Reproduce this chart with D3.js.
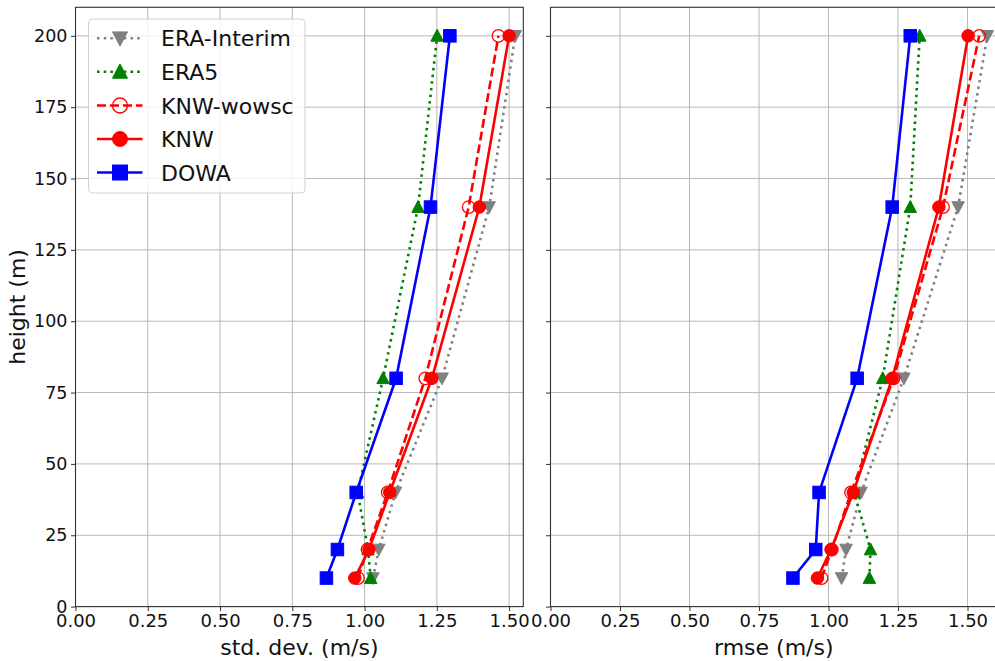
<!DOCTYPE html>
<html>
<head>
<meta charset="utf-8">
<script src="https://cdn.jsdelivr.net/npm/d3@7"></script>
<style>
  html, body { margin: 0; padding: 0; background: #fff; }
  svg { display: block; font-family: "DejaVu Sans", sans-serif; }
</style>
</head>
<body>
<svg id="chart" width="995" height="661"></svg>
<script>
// ---- data ----
const heights = [10, 20, 40, 80, 140, 200];
const seriesNames = ["ERA-Interim", "ERA5", "KNW-wowsc", "KNW", "DOWA"];

const stdEraInterim = [1.029, 1.049, 1.107, 1.268, 1.431, 1.521];
const stdEra5       = [1.021, 1.012, 0.976, 1.064, 1.185, 1.251];
const stdKnwWowsc   = [0.977, 1.010, 1.080, 1.210, 1.360, 1.463];
const stdKnw        = [0.966, 1.015, 1.087, 1.233, 1.397, 1.500];
const stdDowa       = [0.868, 0.906, 0.971, 1.109, 1.228, 1.295];

const rmseEraInterim = [1.047, 1.063, 1.117, 1.271, 1.466, 1.571];
const rmseEra5       = [1.147, 1.151, 1.092, 1.195, 1.294, 1.328];
const rmseKnwWowsc   = [0.975, 1.012, 1.081, 1.234, 1.412, 1.542];
const rmseKnw        = [0.960, 1.009, 1.089, 1.229, 1.397, 1.502];
const rmseDowa       = [0.872, 0.954, 0.966, 1.103, 1.229, 1.294];

const xTicks = [0, 0.25, 0.5, 0.75, 1.0, 1.25, 1.5];
const yTicks = [0, 25, 50, 75, 100, 125, 150, 175, 200];
const xLabels = ["std. dev. (m/s)", "rmse (m/s)"];
const yLabel = "height (m)";

// ---- styles ----
const styles = {
  "ERA-Interim": { color: "#808080", dash: "2.5,4.2", marker: "tri-down", fill: "#808080" },
  "ERA5":        { color: "#008000", dash: "2.5,4.2", marker: "tri-up",   fill: "#008000" },
  "KNW-wowsc":   { color: "#ff0000", dash: "9,4",     marker: "circle",   fill: "none" },
  "KNW":         { color: "#ff0000", dash: null,      marker: "circle",   fill: "#ff0000" },
  "DOWA":        { color: "#0000ff", dash: null,      marker: "square",   fill: "#0000ff" }
};

const panels = [
  { x0: 75.5, x1: 523.3, xmax: 1.549,
    data: [stdEraInterim, stdEra5, stdKnwWowsc, stdKnw, stdDowa], label: xLabels[0], yLabels: true },
  { x0: 550.5, x1: 997, xmax: 1.606,
    data: [rmseEraInterim, rmseEra5, rmseKnwWowsc, rmseKnw, rmseDowa], label: xLabels[1], yLabels: false }
];

const yTop = 7.3, yBot = 606.6;
const y = d3.scaleLinear().domain([0, 210]).range([yBot, yTop]);

const svg = d3.select("#chart");

function drawMarker(g, type, cx, cy, size, st) {
  const s = size;
  if (type === "square") {
    g.append("rect").attr("x", cx - s/2).attr("y", cy - s/2).attr("width", s).attr("height", s)
      .attr("fill", st.fill).attr("stroke", st.color).attr("stroke-width", 1);
  } else if (type === "circle") {
    g.append("circle").attr("cx", cx).attr("cy", cy).attr("r", s/2)
      .attr("fill", st.fill).attr("stroke", st.color).attr("stroke-width", st.fill === "none" ? 1.3 : 1);
  } else if (type === "tri-up") {
    const h = s * 0.95, w = s * 1.0;
    g.append("path").attr("d", `M${cx},${cy - h*0.55} L${cx + w/2},${cy + h*0.45} L${cx - w/2},${cy + h*0.45} Z`)
      .attr("fill", st.fill).attr("stroke", st.color).attr("stroke-width", 1);
  } else if (type === "tri-down") {
    const h = s * 0.95, w = s * 1.0;
    g.append("path").attr("d", `M${cx},${cy + h*0.55} L${cx + w/2},${cy - h*0.45} L${cx - w/2},${cy - h*0.45} Z`)
      .attr("fill", st.fill).attr("stroke", st.color).attr("stroke-width", 1);
  }
}

panels.forEach((p, pi) => {
  const x = d3.scaleLinear().domain([0, p.xmax]).range([p.x0, p.x1]);
  const g = svg.append("g");
  const clipId = "clip" + pi;
  svg.append("clipPath").attr("id", clipId).append("rect")
    .attr("x", p.x0).attr("y", yTop).attr("width", p.x1 - p.x0).attr("height", yBot - yTop);

  // grid
  const grid = g.append("g");
  xTicks.forEach(t => {
    grid.append("line").attr("x1", x(t)).attr("x2", x(t)).attr("y1", yTop).attr("y2", yBot)
      .attr("stroke", "#b0b0b0").attr("stroke-width", 0.9);
  });
  yTicks.forEach(t => {
    grid.append("line").attr("x1", p.x0).attr("x2", p.x1).attr("y1", y(t)).attr("y2", y(t))
      .attr("stroke", "#b0b0b0").attr("stroke-width", 0.9);
  });

  // axes
  const xAxis = d3.axisBottom(x).tickValues(xTicks).tickFormat(d3.format(".2f")).tickSize(4.5).tickPadding(3);
  const xa = g.append("g").attr("transform", `translate(0,${yBot})`).call(xAxis);
  xa.select(".domain").remove();
  xa.selectAll("line").attr("stroke", "#333");
  xa.selectAll("text").attr("font-size", 18).attr("fill", "#111").attr("font-family", "DejaVu Sans");

  const yAxis = d3.axisLeft(y).tickValues(yTicks).tickSize(4.5).tickPadding(3.5)
    .tickFormat(p.yLabels ? d3.format("d") : () => "");
  const ya = g.append("g").attr("transform", `translate(${p.x0},0)`).call(yAxis);
  ya.select(".domain").remove();
  ya.selectAll("line").attr("stroke", "#333");
  ya.selectAll("text").attr("font-size", 17.5).attr("fill", "#111").attr("font-family", "DejaVu Sans");

  // series
  const plot = g.append("g").attr("clip-path", `url(#${clipId})`);
  seriesNames.forEach((name, si) => {
    const st = styles[name];
    const vals = p.data[si];
    const pts = heights.map((h, i) => [x(vals[i]), y(h)]);
    plot.append("path").attr("d", d3.line()(pts)).attr("fill", "none")
      .attr("stroke", st.color).attr("stroke-width", 2.6)
      .attr("stroke-dasharray", st.dash).attr("stroke-linecap", st.dash ? "butt" : "round");
    pts.forEach(pt => drawMarker(plot, st.marker, pt[0], pt[1], 12.5, st));
  });

  // frame
  g.append("rect").attr("x", p.x0).attr("y", yTop).attr("width", p.x1 - p.x0).attr("height", yBot - yTop)
    .attr("fill", "none").attr("stroke", "#333").attr("stroke-width", 1.1);

  // x label
  g.append("text").attr("x", (p.x0 + Math.min(p.x1, 995)) / 2 + (pi === 1 ? 1 : 0)).attr("y", 655)
    .attr("text-anchor", "middle").attr("font-size", 22).attr("fill", "#111").text(p.label);
});

// y label
svg.append("text").attr("transform", `translate(25,${(yTop + yBot) / 2}) rotate(-90)`)
  .attr("text-anchor", "middle").attr("font-size", 22).attr("fill", "#111").text(yLabel);

// legend
const leg = svg.append("g");
leg.append("rect").attr("x", 88.5).attr("y", 19).attr("width", 216.5).attr("height", 174).attr("rx", 4)
  .attr("fill", "rgba(255,255,255,0.8)").attr("stroke", "#d0d0d0").attr("stroke-width", 1);
const rowY = [38.3, 71.8, 105.5, 139, 172.5];
seriesNames.forEach((name, i) => {
  const st = styles[name];
  const ly = rowY[i];
  leg.append("line").attr("x1", 97).attr("x2", 142.5).attr("y1", ly).attr("y2", ly)
    .attr("stroke", st.color).attr("stroke-width", 2.6).attr("stroke-dasharray", st.dash);
  drawMarker(leg, st.marker, 120, ly, 15, st);
  leg.append("text").attr("x", 161).attr("y", ly + 8).attr("font-size", 22).attr("fill", "#111").text(name);
});
</script>
</body>
</html>
